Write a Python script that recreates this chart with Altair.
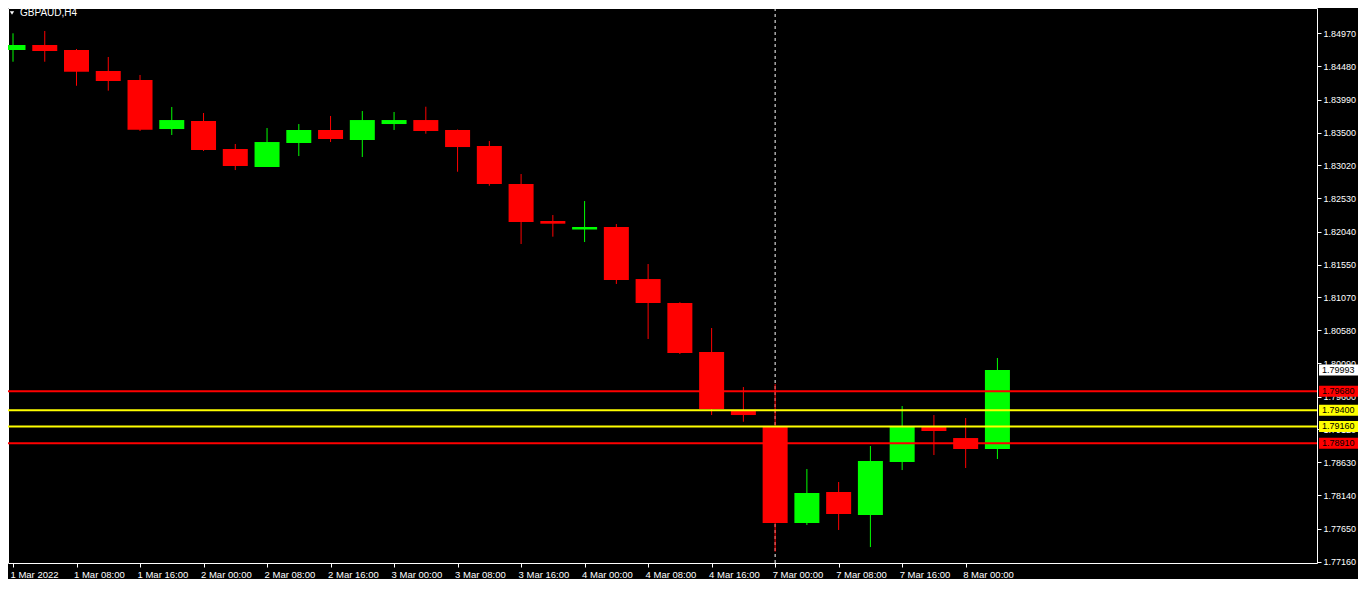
import altair as alt
import pandas as pd

# ---- data (GBPAUD, H4) ----
opens = [1.84723, 1.84797, 1.84723, 1.84413, 1.84280, 1.83555, 1.83674, 1.83260,
         1.82994, 1.83349, 1.83541, 1.83393, 1.83629, 1.83688, 1.83541, 1.83304,
         1.82743, 1.82196, 1.82070, 1.82107, 1.81338, 1.80985, 1.80259, 1.79402,
         1.79155, 1.77732, 1.78190, 1.77850, 1.78634, 1.79151, 1.78988, 1.78826]
highs = [1.84970, 1.85004, 1.84738, 1.84620, 1.84354, 1.83881, 1.83792, 1.83334,
         1.83570, 1.83629, 1.83748, 1.83821, 1.83807, 1.83885, 1.83548, 1.83378,
         1.82890, 1.82284, 1.82491, 1.82151, 1.81560, 1.80995, 1.80614, 1.79742,
         1.79786, 1.78530, 1.78338, 1.78870, 1.79461, 1.79328, 1.79284, 1.80171]
lows = [1.84550, 1.84550, 1.84195, 1.84122, 1.83526, 1.83467, 1.83230, 1.82949,
        1.82994, 1.83156, 1.83363, 1.83142, 1.83541, 1.83486, 1.82924, 1.82717,
        1.81856, 1.81964, 1.81885, 1.81265, 1.80452, 1.80230, 1.79328, 1.79229,
        1.77308, 1.77703, 1.77629, 1.77377, 1.78515, 1.78737, 1.78545, 1.78678]
closes = [1.84797, 1.84708, 1.84402, 1.84265, 1.83545, 1.83688, 1.83245, 1.83009,
          1.83363, 1.83541, 1.83408, 1.83688, 1.83688, 1.83526, 1.83289, 1.82743,
          1.82181, 1.82156, 1.82107, 1.81324, 1.80984, 1.80245, 1.79417, 1.79328,
          1.77732, 1.78176, 1.77865, 1.78648, 1.79155, 1.79092, 1.78826, 1.79993]

x_labels = ["1 Mar 2022", "1 Mar 08:00", "1 Mar 16:00", "2 Mar 00:00", "2 Mar 08:00",
            "2 Mar 16:00", "3 Mar 00:00", "3 Mar 08:00", "3 Mar 16:00", "4 Mar 00:00",
            "4 Mar 08:00", "4 Mar 16:00", "7 Mar 00:00", "7 Mar 08:00", "7 Mar 16:00",
            "8 Mar 00:00"]
y_ticks = [1.84970, 1.84480, 1.83990, 1.83500, 1.83020, 1.82530, 1.82040, 1.81550,
           1.81070, 1.80580, 1.80090, 1.79600, 1.79120, 1.78630, 1.78140, 1.77650,
           1.77160]

level_prices = [1.79680, 1.79400, 1.79160, 1.78910]
level_colors = ["#FF0000", "#FFFF00", "#FFFF00", "#FF0000"]
last_price = 1.79993
separator_index = 24
symbol_title = "GBPAUD,H4"

# ---- tables ----
n = len(opens)
candles = pd.DataFrame({
    "i": list(range(n)),
    "open": opens, "high": highs, "low": lows, "close": closes,
})
candles["dir"] = ["up" if c >= o else "down" for o, c in zip(opens, closes)]

levels = pd.DataFrame({"p": level_prices, "c": level_colors,
                       "label": [f"{p:.5f}" for p in level_prices]})
boxes = pd.concat([
    pd.DataFrame({"p": [last_price], "c": ["#FFFFFF"], "label": [f"{last_price:.5f}"]}),
    levels,
], ignore_index=True)

W, H = 1309, 555
RIGHT = 41
xscale = alt.Scale(domain=[0, W / 32.0], nice=False, zero=False)
yscale = alt.Scale(domain=[1.77141, 1.85344], nice=False, zero=False)
color_scale = alt.Scale(domain=["up", "down"], range=["#00FF00", "#FF0000"])
FONT = "Liberation Sans"

label_arr = "[" + ",".join(f"'{s}'" for s in x_labels) + "]"
x_axis = alt.Axis(values=list(range(0, 2 * len(x_labels), 2)),
                  labelExpr=label_arr + "[round(datum.value/2)]",
                  labelAlign="left", labelBaseline="top", labelColor="white",
                  labelFont=FONT, labelFontSize=9.5, labelPadding=2, labelOffset=-3,
                  labelOverlap=False, labelFlush=False, labelBound=False,
                  tickColor="white", tickSize=4, domain=False, grid=False, title=None)
y_axis = alt.Axis(values=y_ticks, format=".5f", orient="right", labelColor="white",
                  labelFont=FONT, labelFontSize=9, labelPadding=2, labelOverlap=False,
                  labelFlush=False, tickColor="white", tickSize=4, domain=False,
                  grid=False, title=None)


def X(field):
    return alt.X(field, scale=xscale, axis=x_axis)


def Y(field):
    return alt.Y(field, scale=yscale, axis=y_axis)


sep = alt.Chart(pd.DataFrame({"i": [separator_index]})).mark_rule(
    color="white", strokeDash=[3, 3], strokeWidth=1
).encode(x=X("i:Q"))

base = alt.Chart(candles)
wicks = base.mark_rule(strokeWidth=1, clip=True).encode(
    x=X("i:Q"),
    y=Y("low:Q"),
    y2="high:Q",
    color=alt.Color("dir:N", scale=color_scale, legend=None),
)
bodies = base.mark_bar(size=25, clip=True).encode(
    x=X("i:Q"),
    y=Y("open:Q"),
    y2="close:Q",
    color=alt.Color("dir:N", scale=color_scale, legend=None),
)

hlines = alt.Chart(levels).mark_rule(strokeWidth=2).encode(
    y=Y("p:Q"),
    color=alt.Color("c:N", scale=None),
)

box_rects = alt.Chart(boxes).mark_rect(clip=False, yOffset=-5.5, y2Offset=5.5).encode(
    x=alt.value(W + 2), x2=alt.value(W + RIGHT),
    y=Y("p:Q"), y2="p:Q",
    color=alt.Color("c:N", scale=None),
)
box_texts = alt.Chart(boxes).mark_text(
    clip=False, align="left", baseline="middle", font=FONT, fontSize=9, color="black"
).encode(
    x=alt.value(W + 5),
    y=Y("p:Q"),
    text="label:N",
)

title_tri = alt.Chart(pd.DataFrame({"t": [1]})).mark_point(
    shape="triangle-down", filled=True, color="white", size=18, opacity=1
).encode(x=alt.value(4), y=alt.value(5))
title_txt = alt.Chart(pd.DataFrame({"t": [symbol_title]})).mark_text(
    align="left", baseline="middle", font=FONT, fontSize=10, color="white"
).encode(x=alt.value(12), y=alt.value(5), text="t:N")

chart = alt.layer(
    sep, wicks, bodies, hlines, box_rects, box_texts, title_tri, title_txt
).properties(
    width=W, height=H,
    autosize=alt.AutoSizeParams(type="none"),
    padding={"left": 0, "top": 0, "right": RIGHT, "bottom": 16},
    background="black",
).configure_view(stroke="white", strokeWidth=1)

chart.save("out.html", embed_options={"renderer": "svg", "actions": False})
